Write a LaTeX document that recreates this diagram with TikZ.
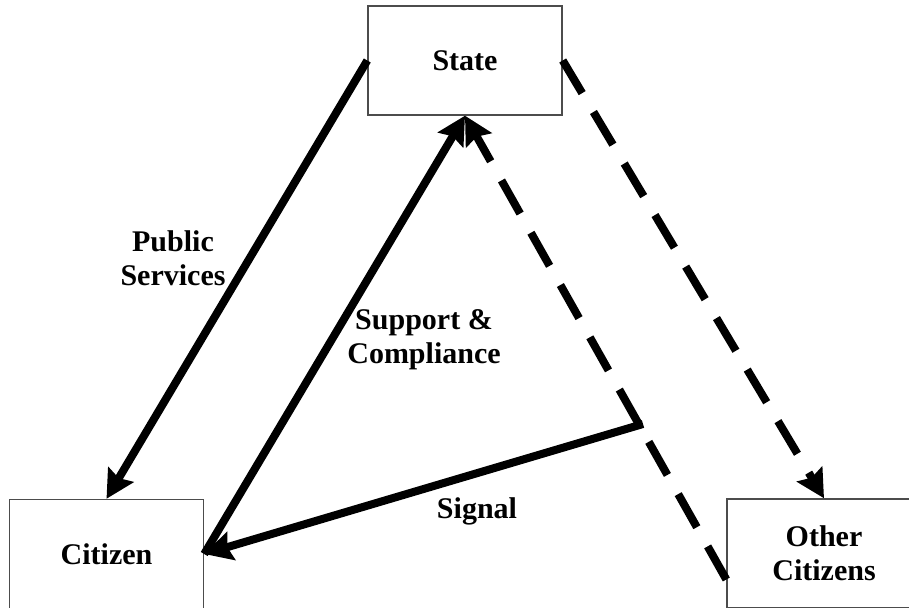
\documentclass[tikz,border=0pt]{standalone}
\usepackage{fontspec}
\setmainfont{Liberation Serif}
\usetikzlibrary{arrows.meta, positioning}

\tikzset{
  actor/.style={rectangle, draw=black!70, line width=1.4pt, minimum width=194pt, minimum height=109pt, align=center, font=\fontsize{30}{34}\selectfont\bfseries},
  flow/.style={line width=8pt, -{Stealth[length=28pt, width=29pt, inset=4pt]}},
  flowdash/.style={flow, dash pattern=on 38pt off 22pt},
  lbl/.style={align=center, font=\fontsize{30}{34}\selectfont\bfseries}
}

\begin{document}
\begin{tikzpicture}[x=1pt, y=1pt]
\useasboundingbox (0,0) rectangle (909,607);
\clip (0,0) rectangle (909,607);

% The three actors
\node[actor] (state) at (465,546.5) {State};
\node[actor] (citizen) at (106.5,53) {Citizen};
\node[actor] (others) at (824,53.5) {Other\\Citizens};

% Free ends of the signal and the dashed feedback
\coordinate (sigstart) at (643,183);
\coordinate (otherfb) at ([yshift=-26pt]others.west);

% Solid flows
\draw[flow] (state.west) -- (citizen.north);
\draw[flow] (citizen.east) -- (state.south);
\draw[flow] (sigstart) -- (citizen.east);

% Dashed flows
\draw[flowdash] (state.east) -- (others.north);
\draw[flowdash] (otherfb) -- (state.south);

% Labels
\node[lbl] (lblpub) at (173,349) {Public\\Services};
\node[lbl] (lblsup) at (424,267) {Support \&\\Compliance};
\node[lbl] (lblsig) at (477,96) {Signal};
\end{tikzpicture}
\end{document}
